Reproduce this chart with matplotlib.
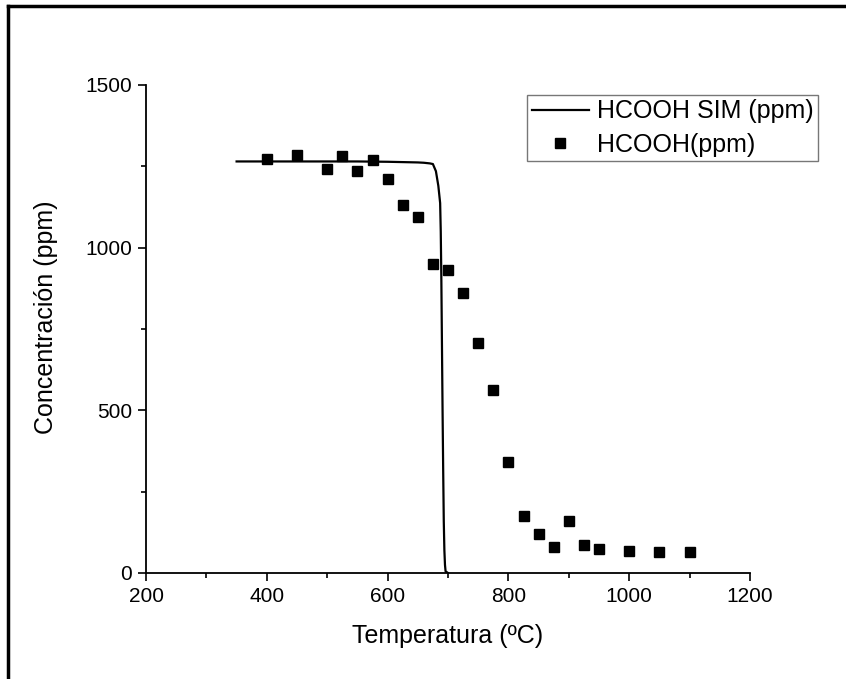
import matplotlib
matplotlib.use("Agg")
import matplotlib.pyplot as plt
from matplotlib.lines import Line2D
from matplotlib.ticker import MultipleLocator

plt.rcParams['font.family'] = ['Liberation Sans', 'DejaVu Sans']

# Measured data (scatter)
temp_exp = [400, 450, 500, 525, 550, 575, 600, 625, 650, 675, 700, 725, 750, 775,
            800, 825, 850, 875, 900, 925, 950, 1000, 1050, 1100]
hcooh_exp = [1272, 1285, 1242, 1282, 1236, 1271, 1211, 1131, 1094, 950, 931, 861, 707, 562,
             341, 175, 120, 80, 161, 87, 74, 69, 65, 64]

# Simulated curve
temp_sim = [350, 400, 450, 500, 550, 600, 625, 650, 660, 670, 675, 680, 684, 687,
            688, 689, 690, 691, 692, 693, 694, 695, 696, 700]
hcooh_sim = [1265, 1265, 1265, 1265, 1265, 1264, 1263, 1262, 1261, 1259, 1257, 1235, 1190, 1137,
             1050, 900, 700, 500, 320, 160, 70, 25, 5, 0]

xticks = [200, 400, 600, 800, 1000, 1200]
yticks = [0, 500, 1000, 1500]

W, H = 846, 679
fig = plt.figure(figsize=(W / 100, H / 100), dpi=100)
ax = fig.add_axes([146 / W, 1 - 573 / H, (750 - 146) / W, (573 - 85) / H])

ax.plot(temp_sim, hcooh_sim, color='black', lw=1.6, label='HCOOH SIM (ppm)', zorder=3)
ax.plot(temp_exp, hcooh_exp, linestyle='none', marker='s', ms=7.5, color='black',
        label='HCOOH(ppm)', zorder=4)

ax.set_xlim(200, 1200)
ax.set_ylim(0, 1500)
ax.set_xticks(xticks)
ax.set_yticks(yticks)
ax.xaxis.set_minor_locator(MultipleLocator(100))
ax.yaxis.set_minor_locator(MultipleLocator(250))

for s in ['top', 'right']:
    ax.spines[s].set_visible(False)
for s in ['left', 'bottom']:
    ax.spines[s].set_linewidth(1.3)

ax.tick_params(which='major', direction='out', length=6, width=1.2, labelsize=15, pad=4)
ax.tick_params(which='minor', direction='out', length=3.5, width=1.2)

ax.set_xlabel('Temperatura (ºC)', fontsize=18, labelpad=13)
ax.set_ylabel('Concentración (ppm)', fontsize=18)
ax.yaxis.set_label_coords(-0.145, 0.525)

leg = ax.legend(loc='upper right', bbox_to_anchor=(818 / W, 1 - 95 / H),
                bbox_transform=fig.transFigure, borderaxespad=0, fontsize=18,
                frameon=True, fancybox=False, handlelength=2.3, handletextpad=0.32,
                labelspacing=0.38, borderpad=0.17, markerscale=1.0)
leg.get_frame().set_edgecolor('#555555')
leg.get_frame().set_linewidth(1.0)

# Image border (left and top edges)
fig.add_artist(Line2D([8 / W, 8 / W], [0, 1 - 6 / H], transform=fig.transFigure,
                      color='black', lw=2.5))
fig.add_artist(Line2D([8 / W, 1], [1 - 6 / H, 1 - 6 / H], transform=fig.transFigure,
                      color='black', lw=2.5))

fig.savefig('out.png', dpi=100, facecolor='white')
